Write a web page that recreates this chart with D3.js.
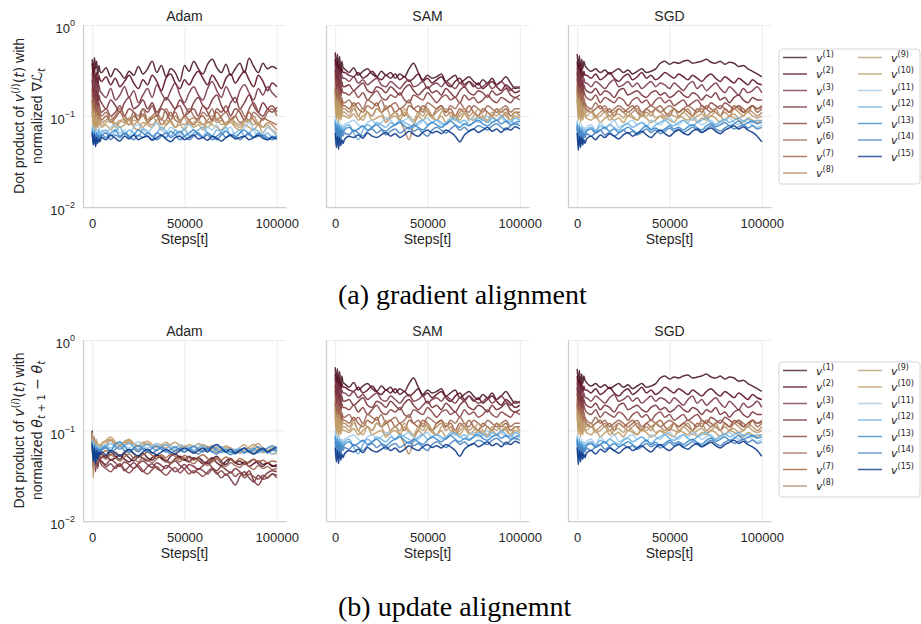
<!DOCTYPE html>
<html>
<head>
<meta charset="utf-8">
<script src="https://cdn.jsdelivr.net/npm/d3@7"></script>
<style>
  body { margin: 0; background: #fff; }
  svg { display: block; }
</style>
</head>
<body>
<svg id="chart" width="921" height="624"></svg>
<script>
// Training steps at which each alignment curve is sampled
const steps = [0, 600, 1200, 1800, 2400, 3000, 3600, 4200,
  5000, 7500, 10000, 12500, 15000, 17500, 20000, 22500, 25000, 27500,
  30000, 32500, 35000, 37500, 40000, 42500, 45000, 47500, 50000, 52500,
  55000, 57500, 60000, 62500, 65000, 67500, 70000, 72500, 75000, 77500,
  80000, 82500, 85000, 87500, 90000, 92500, 95000, 97500, 100000];

const optimizers = ["Adam", "SAM", "SGD"];
const xTicks = [0, 50000, 100000];
const yTicks = [1, 0.1, 0.01];
const yTickExponents = ["0", "\u22121", "\u22122"];
const seriesLabels = ["1","2","3","4","5","6","7","8","9","10","11","12","13","14","15"];
const lineColors = ["#4a1a2a", "#5a1020", "#7a3a4a", "#763038", "#8a4444",
  "#9e6a5a", "#a06040", "#b48a64", "#bc9e74", "#c09c66",
  "#a0cbea", "#6eb0e0", "#3a88cc", "#4a84c0", "#0c3a8a"];
const captions = ["(a) gradient alignment", "(b) update alignemnt"];

// Adam: dot product of v(i)(t) with the normalized loss gradient
const adamGrad = [
  [.42,.30,.44,.33,.40,.28,.36,.31, .30,.34,.27,.33,.30,.26,.31,.28,.35,.29, .33,.40,.30,.36,.27,.33,.30,.24,.36,.31, .40,.33,.29,.37,.42,.34,.30,.37,.28,.33, .38,.30,.43,.35,.30,.38,.33,.35,.33],
  [.38,.24,.35,.22,.30,.20,.28,.25, .24,.27,.22,.26,.21,.24,.28,.23,.20,.25, .22,.28,.24,.19,.26,.29,.23,.20,.25,.22, .27,.31,.26,.22,.28,.24,.20,.26,.29,.23, .27,.31,.25,.21,.28,.24,.19,.23,.21],
  [.30,.18,.27,.16,.24,.15,.22,.19, .18,.16,.20,.15,.17,.21,.16,.19,.14,.17, .20,.16,.22,.18,.15,.19,.23,.17,.14,.18, .21,.17,.15,.20,.24,.19,.16,.21,.17,.14, .19,.22,.18,.15,.20,.17,.21,.18,.16],
  [.25,.14,.22,.12,.19,.13,.17,.15, .14,.12,.15,.13,.11,.14,.16,.12,.13,.15, .12,.14,.11,.13,.16,.14,.12,.15,.13,.11, .14,.16,.13,.12,.15,.17,.13,.11,.14,.16, .12,.14,.17,.13,.11,.14,.12,.11,.125],
  [.20,.12,.18,.10,.16,.11,.14,.12, .11,.12,.10,.11,.13,.10,.12,.11,.09,.12, .11,.13,.10,.12,.11,.09,.12,.13,.10,.11, .12,.10,.13,.11,.09,.12,.11,.13,.10,.12, .11,.09,.12,.14,.11,.10,.12,.13,.11],
  [.17,.10,.15,.09,.13,.10,.12,.11, .10,.11,.09,.10,.12,.10,.09,.11,.10,.12, .09,.10,.11,.09,.12,.10,.11,.09,.10,.12, .10,.09,.11,.10,.12,.09,.10,.11,.09,.10, .12,.10,.09,.11,.10,.09,.11,.12,.10],
  [.15,.09,.13,.08,.12,.09,.11,.10, .09,.10,.085,.095,.11,.09,.08,.10,.09,.105, .085,.095,.10,.08,.09,.11,.09,.085,.10,.09, .08,.095,.10,.085,.09,.11,.095,.08,.09,.10, .085,.09,.11,.09,.08,.095,.09,.085,.08],
  [.14,.08,.12,.075,.11,.08,.10,.09, .085,.09,.10,.08,.09,.085,.095,.08,.09,.10, .085,.08,.09,.095,.08,.09,.10,.085,.08,.09, .095,.085,.08,.09,.10,.085,.09,.08,.095,.085, .08,.09,.085,.10,.08,.075,.085,.08,.07],
  [.12,.075,.11,.07,.10,.08,.09,.085, .08,.085,.09,.075,.085,.095,.08,.09,.085,.075, .09,.10,.085,.08,.09,.085,.075,.09,.095,.08, .085,.09,.08,.075,.085,.095,.08,.085,.09,.08, .075,.085,.09,.08,.085,.075,.08,.07,.065],
  [.11,.07,.10,.065,.09,.075,.085,.08, .075,.08,.07,.085,.075,.08,.09,.075,.07,.085, .08,.075,.085,.07,.08,.09,.075,.08,.07,.085, .075,.08,.07,.085,.08,.075,.07,.08,.085,.075, .07,.08,.075,.07,.08,.065,.075,.07,.06],
  [.08,.06,.075,.055,.07,.065,.075,.06, .07,.065,.075,.08,.065,.07,.06,.075,.08,.07, .065,.075,.085,.07,.065,.075,.07,.06,.075,.08, .07,.065,.06,.075,.07,.08,.065,.07,.075,.06, .065,.075,.085,.07,.06,.065,.075,.07,.06],
  [.075,.055,.07,.05,.065,.06,.07,.058, .065,.07,.06,.068,.075,.062,.07,.065,.06,.072, .068,.06,.065,.075,.068,.06,.07,.065,.072,.06, .065,.07,.075,.065,.06,.07,.068,.075,.062,.065, .07,.06,.065,.072,.068,.06,.065,.058,.055],
  [.07,.05,.068,.048,.065,.055,.062,.058, .062,.058,.065,.07,.06,.065,.058,.062,.07,.065, .06,.055,.065,.062,.058,.068,.062,.055,.06,.065, .07,.062,.058,.065,.06,.055,.062,.068,.06,.058, .065,.07,.062,.058,.065,.06,.055,.06,.058],
  [.068,.05,.065,.048,.06,.052,.06,.055, .06,.065,.055,.062,.058,.065,.06,.055,.062,.058, .065,.06,.055,.06,.065,.058,.062,.068,.06,.055, .06,.065,.058,.062,.055,.06,.065,.058,.062,.06, .055,.06,.065,.058,.06,.062,.058,.055,.06],
  [.065,.048,.062,.046,.058,.05,.056,.052, .058,.055,.062,.057,.053,.06,.056,.062,.055,.058, .06,.054,.058,.062,.056,.052,.058,.06,.055,.058, .062,.056,.058,.054,.06,.057,.053,.058,.062,.056, .058,.06,.055,.058,.062,.057,.055,.058,.056]
];

// SAM: alignment curves (gradient and update directions coincide)
const samAlign = [
  [.50,.35,.48,.32,.45,.30,.40,.34, .33,.30,.34,.28,.31,.33,.29,.27,.31,.28, .30,.26,.29,.27,.33,.38,.30,.25,.28,.26, .27,.29,.24,.26,.28,.23,.25,.27,.24,.22, .25,.23,.26,.22,.24,.27,.23,.20,.21],
  [.42,.28,.40,.26,.36,.27,.33,.30, .30,.28,.27,.30,.26,.28,.31,.27,.25,.28, .26,.29,.25,.27,.24,.26,.29,.24,.26,.23, .25,.27,.23,.21,.24,.26,.22,.24,.21,.23, .20,.22,.24,.21,.19,.22,.20,.18,.19],
  [.38,.24,.34,.22,.31,.23,.28,.26, .26,.24,.27,.23,.25,.22,.24,.26,.22,.21, .24,.22,.20,.23,.25,.21,.22,.24,.20,.22, .23,.21,.24,.22,.20,.23,.21,.24,.22,.20, .21,.23,.20,.22,.24,.21,.19,.21,.20],
  [.32,.20,.30,.19,.26,.18,.24,.21, .21,.22,.19,.21,.23,.19,.18,.21,.20,.18, .21,.19,.17,.20,.22,.19,.17,.19,.21,.18, .19,.17,.20,.18,.16,.19,.21,.18,.17,.19, .18,.16,.19,.17,.18,.20,.17,.16,.17],
  [.28,.17,.25,.15,.22,.16,.20,.18, .18,.17,.19,.16,.18,.15,.17,.19,.16,.15, .17,.16,.18,.15,.14,.17,.16,.15,.18,.16, .14,.16,.17,.15,.16,.14,.17,.15,.16,.14, .15,.17,.15,.14,.16,.15,.14,.16,.15],
  [.22,.14,.20,.13,.18,.12,.16,.14, .14,.15,.13,.14,.12,.15,.14,.13,.15,.12, .13,.14,.12,.13,.15,.12,.13,.11,.14,.13, .12,.13,.11,.13,.12,.14,.12,.11,.13,.12, .11,.13,.12,.11,.12,.13,.11,.12,.12],
  [.20,.12,.18,.11,.16,.12,.15,.13, .13,.12,.14,.12,.11,.13,.12,.14,.11,.12, .13,.11,.12,.10,.13,.12,.11,.13,.12,.10, .12,.13,.11,.12,.10,.12,.11,.13,.11,.10, .12,.11,.10,.12,.11,.12,.10,.11,.11],
  [.18,.11,.16,.10,.15,.11,.13,.12, .12,.11,.13,.10,.12,.11,.10,.12,.11,.13, .10,.11,.09,.07,.055,.08,.10,.12,.11,.10, .11,.12,.10,.11,.09,.11,.12,.10,.11,.10, .09,.11,.10,.12,.10,.11,.10,.11,.10],
  [.16,.10,.15,.09,.14,.10,.12,.11, .11,.10,.12,.10,.09,.11,.10,.12,.11,.09, .10,.11,.10,.12,.10,.09,.11,.10,.12,.10, .09,.11,.12,.10,.09,.10,.11,.09,.10,.12, .10,.09,.11,.10,.12,.10,.09,.11,.10],
  [.15,.09,.14,.085,.13,.09,.11,.10, .10,.095,.105,.09,.10,.11,.09,.095,.10,.085, .095,.10,.09,.11,.095,.085,.10,.09,.105,.095, .09,.10,.085,.095,.10,.09,.105,.095,.09,.10, .095,.085,.10,.09,.095,.105,.09,.10,.095],
  [.10,.07,.09,.065,.085,.07,.08,.075, .08,.085,.09,.08,.075,.085,.09,.08,.085,.095, .09,.08,.085,.09,.095,.085,.08,.09,.095,.085, .09,.08,.085,.095,.09,.085,.08,.09,.095,.085, .09,.10,.085,.09,.095,.085,.09,.08,.085],
  [.09,.065,.085,.06,.08,.065,.075,.07, .075,.08,.065,.055,.07,.08,.075,.085,.08,.075, .085,.08,.09,.085,.08,.075,.085,.09,.08,.085, .09,.085,.08,.09,.095,.085,.09,.08,.085,.095, .09,.085,.095,.09,.10,.09,.085,.095,.09],
  [.085,.06,.08,.055,.075,.06,.07,.065, .07,.075,.068,.072,.078,.07,.075,.08,.072,.068, .075,.08,.085,.078,.072,.08,.075,.07,.078,.085, .08,.075,.082,.088,.08,.075,.082,.078,.085,.09, .082,.078,.085,.09,.082,.088,.08,.085,.088],
  [.075,.055,.07,.05,.065,.055,.065,.06, .065,.062,.07,.065,.06,.068,.072,.065,.07,.062, .068,.072,.065,.07,.075,.068,.072,.065,.06,.07, .075,.07,.065,.072,.078,.07,.075,.068,.072,.078, .075,.07,.078,.082,.075,.07,.078,.082,.078],
  [.065,.045,.06,.043,.058,.047,.055,.05, .055,.06,.058,.062,.057,.065,.06,.058,.062,.066, .06,.064,.058,.062,.068,.063,.06,.066,.07,.065, .068,.064,.07,.066,.06,.052,.062,.068,.072,.066, .07,.075,.068,.072,.066,.074,.07,.076,.072]
];

// SGD: alignment curves (gradient and update directions coincide)
const sgdAlign = [
  [.48,.34,.46,.30,.42,.33,.40,.36, .34,.31,.33,.30,.32,.29,.31,.33,.30,.32, .29,.31,.33,.30,.31,.33,.38,.40,.37,.39, .38,.40,.41,.38,.39,.40,.42,.39,.38,.40, .37,.39,.38,.35,.36,.33,.31,.29,.27],
  [.40,.27,.38,.25,.34,.26,.31,.28, .28,.26,.29,.25,.27,.30,.26,.24,.27,.29, .25,.27,.30,.26,.28,.25,.27,.30,.28,.26, .29,.27,.25,.28,.26,.24,.27,.29,.26,.24, .27,.25,.23,.26,.24,.22,.25,.23,.22],
  [.34,.22,.32,.20,.28,.21,.26,.23, .23,.21,.24,.22,.20,.23,.25,.21,.22,.24, .21,.23,.20,.22,.24,.21,.23,.22,.20,.23, .21,.19,.22,.24,.20,.22,.19,.21,.23,.20, .18,.21,.19,.17,.20,.18,.19,.21,.18],
  [.30,.19,.27,.17,.24,.18,.22,.20, .19,.18,.20,.17,.19,.18,.16,.19,.20,.17, .18,.19,.17,.16,.18,.19,.17,.18,.16,.17, .19,.17,.16,.18,.17,.15,.17,.16,.18,.15, .16,.14,.16,.17,.15,.14,.16,.15,.15],
  [.26,.16,.24,.15,.21,.15,.19,.17, .16,.15,.17,.14,.16,.15,.14,.16,.15,.13, .15,.16,.14,.15,.13,.15,.16,.14,.15,.13, .14,.15,.13,.14,.15,.13,.12,.14,.13,.12, .14,.13,.12,.13,.11,.12,.13,.12,.125],
  [.22,.13,.20,.12,.18,.13,.16,.14, .13,.12,.14,.12,.13,.11,.12,.13,.12,.11, .12,.13,.11,.12,.13,.12,.11,.12,.13,.12, .11,.12,.13,.12,.11,.13,.12,.11,.12,.13, .12,.11,.12,.13,.12,.11,.13,.12,.13],
  [.20,.12,.18,.11,.16,.12,.14,.13, .12,.11,.12,.13,.11,.12,.10,.12,.11,.12, .13,.11,.10,.12,.11,.12,.13,.11,.10,.12, .11,.12,.11,.10,.12,.11,.13,.12,.11,.10, .12,.11,.13,.12,.11,.12,.13,.11,.12],
  [.18,.11,.17,.10,.15,.11,.13,.12, .11,.12,.10,.11,.12,.10,.11,.12,.11,.10, .11,.12,.10,.11,.10,.12,.11,.10,.11,.12, .10,.11,.12,.10,.11,.12,.10,.11,.12,.10, .11,.10,.12,.11,.10,.12,.11,.10,.11],
  [.16,.10,.15,.09,.13,.10,.12,.11, .10,.11,.095,.10,.11,.09,.10,.105,.095,.11, .10,.09,.105,.10,.11,.095,.10,.09,.105,.10, .095,.11,.10,.09,.10,.105,.095,.10,.11,.10, .09,.10,.105,.095,.10,.11,.10,.095,.10],
  [.15,.09,.14,.085,.12,.09,.11,.10, .095,.09,.10,.085,.095,.10,.09,.095,.085,.10, .095,.09,.10,.095,.085,.09,.10,.095,.09,.085, .10,.095,.09,.10,.085,.095,.09,.10,.095,.085, .09,.10,.095,.09,.085,.095,.09,.085,.09],
  [.09,.06,.085,.055,.08,.065,.075,.07, .075,.08,.07,.085,.075,.08,.09,.075,.08,.085, .09,.08,.085,.075,.09,.085,.08,.09,.095,.085, .08,.09,.085,.095,.09,.08,.085,.09,.08,.085, .09,.095,.085,.08,.09,.085,.08,.075,.08],
  [.085,.055,.08,.05,.075,.06,.07,.065, .07,.075,.068,.078,.072,.08,.075,.07,.078,.082, .075,.08,.085,.078,.072,.08,.085,.09,.082,.078, .085,.09,.082,.078,.085,.09,.095,.085,.08,.088, .092,.085,.09,.095,.088,.092,.085,.09,.088],
  [.08,.052,.075,.05,.07,.055,.065,.06, .068,.072,.065,.07,.075,.068,.072,.066,.07,.075, .07,.065,.072,.078,.07,.074,.068,.072,.078,.072, .075,.07,.076,.08,.074,.07,.078,.082,.076,.08, .085,.078,.082,.088,.08,.084,.088,.082,.085],
  [.075,.05,.07,.048,.065,.052,.062,.058, .064,.06,.066,.07,.062,.066,.06,.065,.07,.064, .068,.062,.066,.072,.066,.07,.064,.068,.074,.068, .072,.066,.07,.075,.07,.066,.072,.078,.072,.068, .074,.078,.072,.076,.08,.074,.078,.072,.075],
  [.065,.042,.06,.045,.058,.048,.055,.05, .056,.06,.055,.062,.058,.064,.06,.056,.062,.066, .06,.064,.068,.062,.058,.065,.07,.064,.06,.066, .07,.065,.062,.068,.072,.066,.07,.074,.068,.064, .07,.074,.078,.072,.076,.07,.066,.06,.052]
];

// Adam: dot product of v(i)(t) with the normalized parameter update
const adamUpdate = [
  [.10,.05,.085,.045,.07,.04,.065,.055, .055,.05,.058,.052,.048,.055,.05,.046,.052,.056, .05,.047,.053,.049,.045,.052,.055,.05,.047,.052, .048,.05,.046,.043,.048,.052,.045,.042,.048,.044, .046,.042,.045,.048,.043,.04,.044,.041,.04],
  [.095,.045,.08,.04,.07,.045,.06,.05, .05,.053,.047,.05,.054,.048,.045,.05,.053,.049, .046,.05,.054,.05,.047,.044,.049,.052,.048,.045, .05,.047,.043,.046,.05,.044,.041,.046,.049,.044, .042,.045,.04,.043,.046,.042,.044,.04,.042],
  [.085,.04,.075,.035,.065,.04,.055,.045, .045,.04,.043,.038,.042,.036,.04,.044,.039,.035, .04,.043,.038,.036,.041,.039,.035,.038,.042,.037, .034,.038,.036,.033,.037,.034,.03,.033,.029,.025, .031,.035,.03,.027,.032,.029,.03,.033,.032],
  [.09,.042,.078,.038,.068,.04,.06,.048, .046,.042,.048,.044,.04,.045,.042,.038,.043,.046, .042,.039,.044,.041,.038,.043,.046,.041,.038,.042, .04,.037,.041,.044,.039,.036,.04,.037,.034,.038, .035,.032,.036,.028,.025,.03,.034,.036,.035],
  [.08,.04,.07,.036,.062,.038,.055,.045, .042,.038,.035,.04,.043,.037,.034,.038,.041,.036, .033,.037,.04,.035,.032,.036,.039,.034,.037,.033, .036,.034,.031,.035,.038,.033,.036,.032,.035,.031, .034,.03,.033,.031,.029,.032,.03,.033,.03],
  [.095,.045,.085,.042,.072,.044,.064,.05, .052,.048,.054,.05,.046,.051,.055,.049,.045,.05, .047,.044,.049,.052,.046,.043,.048,.045,.05,.046, .043,.047,.044,.041,.045,.048,.043,.04,.044,.041, .039,.043,.04,.037,.041,.038,.04,.037,.038],
  [.09,.05,.08,.045,.075,.05,.065,.055, .056,.06,.054,.058,.052,.056,.06,.055,.05,.054, .058,.053,.049,.054,.05,.055,.052,.048,.053,.05, .047,.051,.054,.049,.046,.05,.047,.051,.048,.045, .049,.046,.044,.048,.045,.047,.044,.046,.045],
  [.09,.03,.08,.04,.075,.05,.07,.06, .065,.07,.078,.068,.062,.07,.075,.066,.06,.068, .072,.065,.06,.066,.07,.063,.058,.064,.068,.062, .058,.064,.06,.066,.062,.057,.062,.058,.064,.06, .056,.06,.064,.058,.062,.057,.06,.055,.056],
  [.095,.055,.085,.05,.08,.055,.07,.06, .07,.075,.08,.072,.068,.074,.078,.07,.066,.072, .076,.07,.065,.07,.074,.068,.064,.07,.066,.062, .068,.064,.07,.066,.062,.067,.063,.068,.064,.06, .065,.07,.062,.066,.072,.064,.06,.065,.06],
  [.09,.055,.08,.05,.075,.06,.07,.065, .072,.078,.085,.075,.07,.076,.08,.072,.068,.074, .07,.066,.072,.068,.064,.07,.074,.068,.065,.07, .066,.072,.068,.064,.068,.064,.06,.065,.062,.058, .063,.06,.066,.07,.064,.06,.058,.062,.058],
  [.08,.055,.075,.05,.07,.06,.068,.062, .066,.07,.064,.068,.074,.068,.064,.07,.075,.068, .064,.068,.072,.066,.062,.068,.064,.07,.066,.062, .066,.07,.064,.06,.065,.068,.062,.058,.063,.06, .064,.058,.062,.06,.056,.06,.058,.055,.058],
  [.078,.05,.072,.048,.068,.055,.065,.06, .064,.068,.072,.066,.062,.068,.072,.066,.062,.067, .07,.064,.06,.066,.07,.064,.06,.065,.062,.066, .06,.064,.068,.062,.058,.063,.066,.06,.057,.062, .06,.056,.06,.063,.058,.06,.056,.062,.06],
  [.075,.048,.07,.046,.065,.052,.062,.058, .062,.066,.06,.07,.075,.066,.06,.064,.068,.062, .058,.064,.068,.062,.058,.062,.066,.06,.058,.063, .067,.061,.058,.062,.066,.06,.057,.062,.058,.055, .06,.064,.058,.062,.066,.06,.064,.068,.062],
  [.072,.046,.068,.044,.062,.05,.06,.056, .06,.064,.058,.062,.067,.06,.057,.062,.058,.064, .06,.056,.061,.065,.06,.056,.06,.063,.058,.062, .058,.055,.06,.064,.058,.055,.06,.057,.054,.058, .062,.057,.06,.055,.058,.062,.058,.06,.06],
  [.07,.045,.065,.042,.06,.048,.058,.054, .058,.054,.06,.056,.052,.058,.062,.056,.052,.058, .062,.057,.054,.058,.062,.058,.055,.06,.064,.06, .056,.06,.064,.058,.066,.07,.064,.058,.062,.056, .06,.064,.058,.055,.06,.064,.058,.062,.066]
];

const SANS = '"Liberation Sans", Arial, sans-serif';
const MATH = '"DejaVu Sans", sans-serif';
const SERIF = '"Liberation Serif", "Times New Roman", serif';
const INK = "#262626";

const svg = d3.select("#chart");
const panelLeft = [83, 326, 568];
const panelWidth = 203;

const rows = [
  { top: 25, bottom: 207, sets: [adamGrad, samAlign, sgdAlign], caption: captions[0],
    captionY: 304, legendTop: 49, kind: "grad" },
  { top: 340, bottom: 521, sets: [adamUpdate, samAlign, sgdAlign], caption: captions[1],
    captionY: 616, legendTop: 362, kind: "update" }
];

// append runs of text with optional math styling: [string, {italic, math, shift, size}]
function appendRuns(textSel, runs) {
  let shift = 0;
  runs.forEach(([str, opt = {}]) => {
    const s = opt.shift || 0;
    const t = textSel.append("tspan").text(str).attr("dy", s - shift);
    shift = s;
    if (opt.italic) t.attr("font-style", "italic").attr("font-family", MATH);
    if (opt.math) t.attr("font-family", MATH);
    if (opt.size) t.attr("font-size", opt.size);
  });
}

rows.forEach(row => {
  const y = d3.scaleLog().domain([0.01, 1]).range([row.bottom, row.top]);
  const h = row.bottom - row.top;

  row.sets.forEach((set, pi) => {
    const left = panelLeft[pi];
    const x = d3.scaleLinear().domain([-5000, 105000]).range([left, left + panelWidth]);
    const g = svg.append("g");

    // grid
    g.append("g").attr("transform", `translate(0,${row.bottom})`)
      .call(d3.axisBottom(x).tickValues(xTicks).tickSize(-h).tickFormat(""))
      .call(a => a.select(".domain").remove())
      .call(a => a.selectAll("line").attr("stroke", "#ebebeb").attr("stroke-width", 1));
    g.append("g").attr("transform", `translate(${left},0)`)
      .call(d3.axisLeft(y).tickValues(yTicks).tickSize(-panelWidth).tickFormat(""))
      .call(a => a.select(".domain").remove())
      .call(a => a.selectAll("line").attr("stroke", "#ebebeb").attr("stroke-width", 1));

    // alignment curves, v(1) drawn first
    const line = d3.line()
      .x((d, i) => x(steps[i]))
      .y(d => y(d))
      .curve(d3.curveMonotoneX);
    g.append("g").selectAll("path").data(set).join("path")
      .attr("d", line)
      .attr("fill", "none")
      .attr("stroke", (d, i) => lineColors[i])
      .attr("stroke-width", 1.5)
      .attr("stroke-opacity", 0.9)
      .attr("stroke-linejoin", "round");

    // bottom spine + tick labels
    g.append("g").attr("transform", `translate(0,${row.bottom})`)
      .call(d3.axisBottom(x).tickValues(xTicks).tickSize(0).tickSizeOuter(0)
        .tickPadding(12).tickFormat(d3.format("d")))
      .call(a => a.select(".domain").attr("stroke", "#cccccc").attr("stroke-width", 1.25))
      .call(a => a.selectAll("text").attr("font-family", SANS).attr("font-size", 13).attr("fill", INK));

    // left spine
    g.append("g").attr("transform", `translate(${left},0)`)
      .call(d3.axisLeft(y).tickValues([]).tickSizeOuter(0))
      .call(a => a.select(".domain").attr("stroke", "#cccccc").attr("stroke-width", 1.25));

    // y tick labels on the first panel only
    if (pi === 0) {
      yTicks.forEach((v, k) => {
        const t = g.append("text")
          .attr("x", left - 8).attr("y", y(v) + 8)
          .attr("text-anchor", "end")
          .attr("font-family", SANS).attr("font-size", 13).attr("fill", INK);
        t.append("tspan").text("10");
        t.append("tspan").text(yTickExponents[k]).attr("font-size", 9).attr("dy", -7);
      });
    }

    // panel title
    g.append("text")
      .attr("x", left + panelWidth / 2).attr("y", row.top - 4)
      .attr("text-anchor", "middle")
      .attr("font-family", SANS).attr("font-size", 14).attr("fill", INK)
      .text(optimizers[pi]);

    // x axis title
    g.append("text")
      .attr("x", left + panelWidth / 2).attr("y", row.bottom + 37)
      .attr("text-anchor", "middle")
      .attr("font-family", SANS).attr("font-size", 14).attr("fill", INK)
      .text("Steps[t]");
  });

  // y axis title (two lines)
  const cy = (row.top + row.bottom) / 2;
  const l1 = svg.append("text")
    .attr("transform", `translate(24,${cy}) rotate(-90)`)
    .attr("text-anchor", "middle")
    .attr("font-family", SANS).attr("font-size", 14).attr("fill", INK);
  appendRuns(l1, [["Dot product of "], ["v", { italic: true }], ["(", { shift: -5, size: 10, math: true }],
    ["i", { shift: -5, size: 10, italic: true }], [")", { shift: -5, size: 10, math: true }],
    ["(", { math: true }], ["t", { italic: true }], [")", { math: true }], [" with"]]);

  const l2 = svg.append("text")
    .attr("transform", `translate(42,${cy}) rotate(-90)`)
    .attr("text-anchor", "middle")
    .attr("font-family", SANS).attr("font-size", 14).attr("fill", INK);
  if (row.kind === "grad") {
    appendRuns(l2, [["normalized "], ["\u2207", { math: true }], ["\u2112", { italic: true }],
      ["t", { shift: 3, size: 10, italic: true }]]);
  } else {
    appendRuns(l2, [["normalized "], ["\u03B8", { italic: true }], ["t", { shift: 3, size: 10, italic: true }],
      [" + 1", { shift: 3, size: 10, math: true }], [" \u2212 ", { math: true }],
      ["\u03B8", { italic: true }], ["t", { shift: 3, size: 10, italic: true }]]);
  }

  // legend
  const lg = svg.append("g").attr("transform", `translate(779,${row.legendTop})`);
  lg.append("rect").attr("width", 141).attr("height", 135).attr("rx", 3)
    .attr("fill", "#fff").attr("stroke", "#d6d6d6").attr("stroke-width", 1);
  const items = lg.selectAll("g.item").data(seriesLabels).join("g")
    .attr("class", "item")
    .attr("transform", (d, i) => `translate(${i < 8 ? 4 : 79},${8.5 + 16.5 * (i % 8)})`);
  items.append("line").attr("x1", 0).attr("x2", 24)
    .attr("stroke", (d, i) => lineColors[i]).attr("stroke-width", 1.5).attr("stroke-opacity", 0.8);
  items.append("text").attr("x", 33).attr("y", 4)
    .attr("font-family", MATH).attr("font-size", 11).attr("fill", INK)
    .each(function (d) {
      const t = d3.select(this);
      t.append("tspan").text("v").attr("font-style", "italic");
      t.append("tspan").text(`(${d})`).attr("font-size", 8).attr("dy", -5);
    });

  // sub-figure caption
  svg.append("text")
    .attr("x", 338).attr("y", row.captionY)
    .attr("font-family", SERIF).attr("font-size", 28).attr("fill", "#000")
    .text(row.caption);
});
</script>
</body>
</html>
